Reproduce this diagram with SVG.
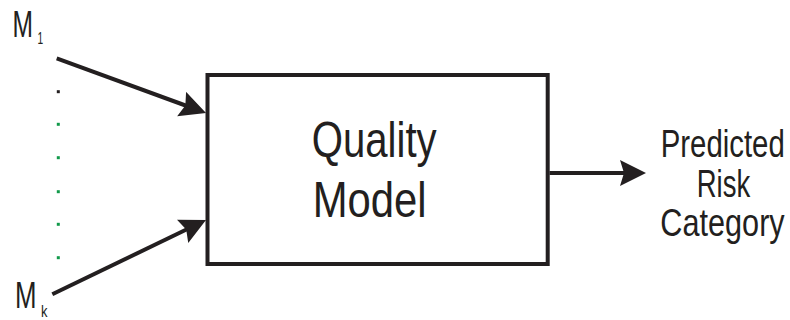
<svg xmlns="http://www.w3.org/2000/svg" width="790" height="320" viewBox="0 0 790 320">
  <style>
    .lbl { font-family: "Liberation Sans", Arial, sans-serif; fill: #231f20; }
    .box { fill: #ffffff; stroke: #231f20; stroke-width: 4; }
    .edge { fill: none; stroke: #231f20; stroke-width: 4; }
    .dot { fill: #12994a; }
  </style>
  <defs>
    <marker id="head" markerUnits="userSpaceOnUse" markerWidth="28" markerHeight="28" refX="10" refY="13" orient="auto" viewBox="0 0 28 28">
      <path d="M0,0 L26,13 L0,26 L4,13 Z" fill="#231f20"/>
    </marker>
  </defs>

  <rect width="790" height="320" fill="#ffffff"/>

  <!-- inputs (condensed lettering via horizontal scale) -->
  <g id="input-m1">
    <text class="lbl" font-size="37" transform="translate(12.5,36.7) scale(0.665,1)">M</text>
    <text class="lbl" font-size="17" transform="translate(37.5,44.3) scale(0.6,1)">1</text>
  </g>
  <g id="input-mk">
    <text class="lbl" font-size="37" transform="translate(15,308.3) scale(0.698,1)">M</text>
    <text class="lbl" font-size="17" transform="translate(41,316.7) scale(0.76,1)">k</text>
  </g>

  <!-- ellipsis between the inputs -->
  <g id="ellipsis">
    <rect x="56.8" y="90.2" width="3" height="3" fill="#231f20"/>
    <rect class="dot" x="56.8" y="122.8" width="3" height="3"/>
    <rect class="dot" x="56.8" y="156.2" width="3" height="3"/>
    <rect class="dot" x="56.8" y="190.2" width="3" height="3"/>
    <rect class="dot" x="56.8" y="222.8" width="3" height="3"/>
    <rect class="dot" x="56.8" y="256.2" width="3" height="3"/>
  </g>

  <!-- model block -->
  <g id="quality-model">
    <rect class="box" x="207.5" y="75" width="340.2" height="189"/>
    <text class="lbl" font-size="50" transform="translate(311.7,156.7) scale(0.803,1)">Quality</text>
    <text class="lbl" font-size="50" transform="translate(312.7,216.7) scale(0.837,1)">Model</text>
  </g>

  <!-- output label -->
  <g id="predicted-risk">
    <text class="lbl" font-size="38" transform="translate(660.7,156.5) scale(0.773,1)">Predicted</text>
    <text class="lbl" font-size="38" transform="translate(696.7,196.5) scale(0.724,1)">Risk</text>
    <text class="lbl" font-size="38" transform="translate(660.3,235.5) scale(0.807,1)">Category</text>
  </g>

  <!-- connectors -->
  <g id="connectors">
    <path class="edge" d="M56.7,58.3 L191,107.5" marker-end="url(#head)"/>
    <path class="edge" d="M52.3,294.3 L191.6,227" marker-end="url(#head)"/>
    <path class="edge" d="M549.5,173 L630,173" marker-end="url(#head)"/>
  </g>
</svg>
